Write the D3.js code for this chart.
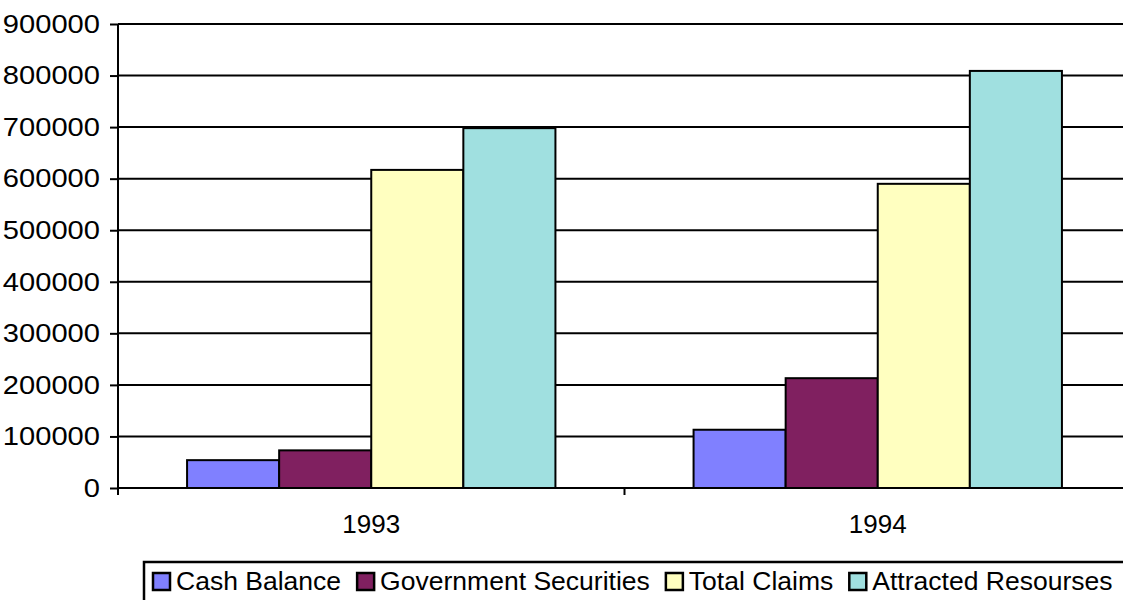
<!DOCTYPE html>
<html>
<head>
<meta charset="utf-8">
<script src="https://cdn.jsdelivr.net/npm/d3@7"></script>
<style>
  body { margin: 0; background: #fff; }
  svg { display: block; font-family: "Liberation Sans", Arial, sans-serif; }
</style>
</head>
<body>
<div id="chart"></div>
<script>
// Data
const years = ["1993", "1994"];
const seriesNames = ["Cash Balance", "Government Securities", "Total Claims", "Attracted Resourses"];
const cashBalance = [54000, 113000];
const govSecurities = [73000, 213000];
const totalClaims = [617000, 590000];
const attractedResources = [698000, 809000];
const yTicks = [0, 100000, 200000, 300000, 400000, 500000, 600000, 700000, 800000, 900000];

const seriesValues = [cashBalance, govSecurities, totalClaims, attractedResources];
const colors = ["#8080ff", "#802060", "#ffffc0", "#a0e0e0"];

const width = 1123, height = 600;
const margin = { top: 24, right: -8, bottom: 112, left: 118 };
const fontSize = 26;

const svg = d3.select("#chart").append("svg")
  .attr("width", width)
  .attr("height", height);

// stretch text horizontally, like the original; returns nothing, width read before
function widen(sel, k) {
  sel.each(function () {
    const w = this.getComputedTextLength();
    d3.select(this).attr("textLength", w * k).attr("lengthAdjust", "spacingAndGlyphs");
  });
}

const x = d3.scaleBand()
  .domain(years)
  .range([margin.left, width - margin.right]);

const x1 = d3.scaleBand()
  .domain(seriesNames)
  .range([0, x.bandwidth()])
  .paddingOuter(0.75)
  .paddingInner(0);

const y = d3.scaleLinear()
  .domain([0, 900000])
  .range([height - margin.bottom, margin.top]);

// gridlines
svg.append("g")
  .selectAll("line")
  .data(yTicks.slice(1))
  .join("line")
  .attr("x1", margin.left)
  .attr("x2", width)
  .attr("y1", d => y(d))
  .attr("y2", d => y(d))
  .attr("stroke", "#000")
  .attr("stroke-width", 2);

// bars
const rows = years.map((yr, i) => seriesNames.map((s, j) => ({ year: yr, series: s, value: seriesValues[j][i], color: colors[j] })));

svg.append("g")
  .selectAll("g")
  .data(rows)
  .join("g")
  .attr("transform", d => `translate(${x(d[0].year)},0)`)
  .selectAll("rect")
  .data(d => d)
  .join("rect")
  .attr("x", d => x1(d.series))
  .attr("y", d => y(d.value))
  .attr("width", x1.bandwidth())
  .attr("height", d => y(0) - y(d.value))
  .attr("fill", d => d.color)
  .attr("stroke", "#000")
  .attr("stroke-width", 2);

// y axis
const yAxis = svg.append("g")
  .attr("transform", `translate(${margin.left},0)`)
  .call(d3.axisLeft(y).tickValues(yTicks).tickSize(8).tickPadding(10).tickFormat(d3.format("d")));
yAxis.select(".domain").attr("stroke-width", 2).attr("d", `M0,${y(900000)}V${y(0) + 6}`);
yAxis.selectAll(".tick line").attr("stroke-width", 2);
yAxis.selectAll("text")
  .attr("font-size", fontSize).attr("fill", "#000")
  .attr("font-family", "Liberation Sans, Arial, sans-serif")
  .call(widen, 1.12);

// x axis
const xAxis = svg.append("g")
  .attr("transform", `translate(0,${y(0)})`)
  .call(d3.axisBottom(x).tickSize(0).tickPadding(27));
xAxis.select(".domain").attr("stroke-width", 2).attr("d", `M${margin.left},0H${width}`);
xAxis.selectAll("text")
  .attr("font-size", fontSize).attr("fill", "#000")
  .attr("font-family", "Liberation Sans, Arial, sans-serif");

// category separators
svg.append("g")
  .selectAll("line")
  .data(years)
  .join("line")
  .attr("x1", d => x(d))
  .attr("x2", d => x(d))
  .attr("y1", y(0))
  .attr("y2", y(0) + 7)
  .attr("stroke", "#000")
  .attr("stroke-width", 2);

// legend
const legend = svg.append("g").attr("transform", "translate(144,562)");
legend.append("rect")
  .attr("x", 0).attr("y", 0)
  .attr("width", 1000).attr("height", 60)
  .attr("fill", "#fff")
  .attr("stroke", "#000")
  .attr("stroke-width", 2.5);

let lx = 9;
seriesNames.forEach((name, i) => {
  legend.append("rect")
    .attr("x", lx).attr("y", 11)
    .attr("width", 17).attr("height", 17)
    .attr("fill", colors[i])
    .attr("stroke", "#000")
    .attr("stroke-width", 2.5);
  const t = legend.append("text")
    .attr("x", lx + 23)
    .attr("y", 28)
    .attr("font-size", fontSize)
    .attr("fill", "#000")
    .text(name);
  const w = t.node().getComputedTextLength() * 1.02;
  t.attr("textLength", w).attr("lengthAdjust", "spacingAndGlyphs");
  lx += 23 + w + 16;
});
</script>
</body>
</html>
